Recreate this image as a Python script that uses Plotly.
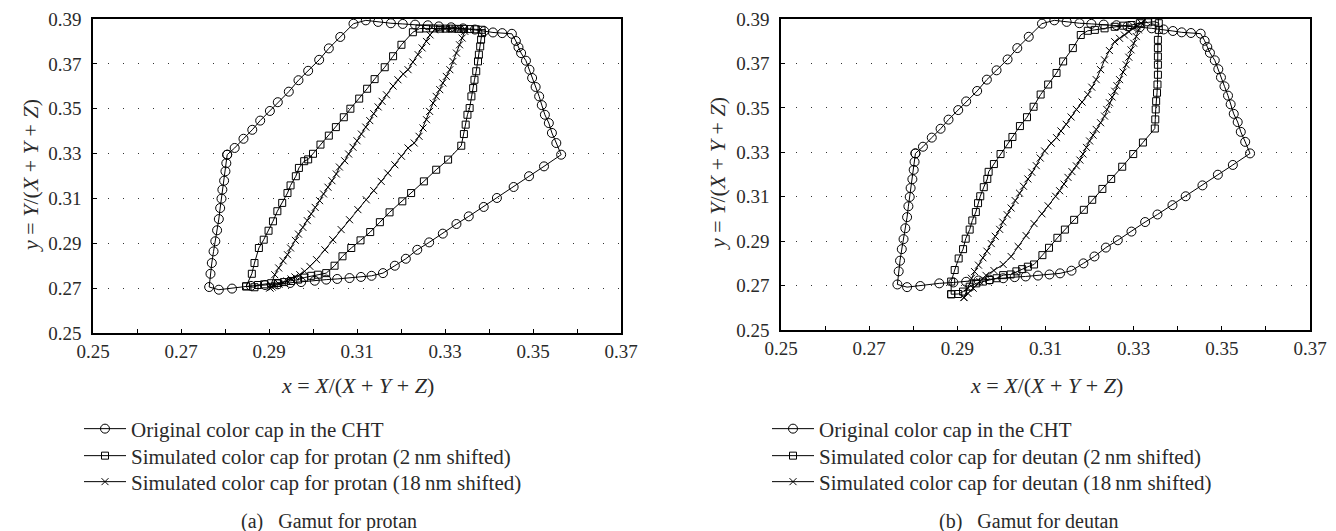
import plotly.graph_objects as go

# ---------------- data ----------------
# Original CHT colour caps (same in both panels)
orig = [(0.2805,0.3295),(0.2822,0.3325),(0.2842,0.3366),(0.2862,0.3406),(0.2880,0.3447),
        (0.2902,0.3490),(0.2920,0.3529),(0.2945,0.3576),(0.2967,0.3627),(0.2989,0.3669),
        (0.3014,0.3718),(0.3036,0.3769),(0.3062,0.3820),(0.3092,0.3879),(0.3120,0.3894),
        (0.3148,0.3887),(0.3177,0.3881),(0.3204,0.3878),(0.3232,0.3875),(0.3261,0.3872),
        (0.3286,0.3867),(0.3314,0.3863),(0.3341,0.3858),(0.3368,0.3853),(0.3389,0.3846),
        (0.3409,0.3840),(0.3430,0.3837),(0.3452,0.3834),(0.3461,0.3802),(0.3467,0.3774),
        (0.3473,0.3748),(0.3484,0.3714),(0.3492,0.3674),(0.3498,0.3637),(0.3506,0.3597),
        (0.3514,0.3555),(0.3520,0.3516),(0.3527,0.3473),(0.3536,0.3436),(0.3543,0.3392),
        (0.3553,0.3347),(0.3564,0.3295),(0.3525,0.3243),(0.3491,0.3199),(0.3456,0.3151),
        (0.3418,0.3102),(0.3388,0.3062),(0.3354,0.3020),(0.3326,0.2986),(0.3295,0.2943),
        (0.3264,0.2904),(0.3237,0.2871),(0.3211,0.2831),(0.3186,0.2800),(0.3159,0.2767),
        (0.3133,0.2755),(0.3109,0.2750),(0.3083,0.2745),(0.3055,0.2741),(0.3030,0.2738),
        (0.3004,0.2733),(0.2973,0.2727),(0.2948,0.2723),(0.2920,0.2717),(0.2891,0.2714),
        (0.2859,0.2710),(0.2816,0.2698),(0.2786,0.2693),(0.2764,0.2705),(0.2767,0.2764),
        (0.2770,0.2812),(0.2774,0.2864),(0.2778,0.2909),(0.2782,0.2958),(0.2786,0.3008),
        (0.2789,0.3057),(0.2792,0.3099),(0.2794,0.3139),(0.2798,0.3179),(0.2801,0.3221),
        (0.2803,0.3257),(0.2805,0.3295)]

# Protan, 2 nm shifted
protan2 = [(0.2848,0.2708),(0.2861,0.2764),(0.2867,0.2812),(0.2877,0.2879),(0.2888,0.2916),
           (0.2899,0.2956),(0.2909,0.2998),(0.2919,0.3043),(0.2930,0.3080),(0.2942,0.3124),
           (0.2949,0.3158),(0.2961,0.3199),(0.2968,0.3236),(0.2980,0.3266),(0.2989,0.3274),
           (0.3000,0.3299),(0.3017,0.3340),(0.3036,0.3380),(0.3052,0.3418),(0.3070,0.3462),
           (0.3085,0.3500),(0.3105,0.3545),(0.3123,0.3589),(0.3140,0.3632),(0.3163,0.3685),
           (0.3182,0.3734),(0.3201,0.3785),(0.3227,0.3841),(0.3242,0.3857),(0.3257,0.3858),
           (0.3273,0.3858),(0.3289,0.3857),(0.3302,0.3857),(0.3316,0.3857),(0.3330,0.3856),
           (0.3343,0.3856),(0.3357,0.3855),(0.3370,0.3854),(0.3383,0.3852),(0.3384,0.3837),
           (0.3382,0.3808),(0.3380,0.3778),(0.3377,0.3741),(0.3375,0.3711),(0.3371,0.3667),
           (0.3367,0.3629),(0.3364,0.3592),(0.3360,0.3555),(0.3356,0.3503),(0.3351,0.3473),
           (0.3347,0.3429),(0.3343,0.3387),(0.3337,0.3335),(0.3307,0.3273),(0.3280,0.3228),
           (0.3252,0.3176),(0.3223,0.3124),(0.3203,0.3087),(0.3174,0.3038),(0.3152,0.2994),
           (0.3130,0.2950),(0.3108,0.2913),(0.3087,0.2879),(0.3067,0.2842),(0.3049,0.2800),
           (0.3030,0.2767),(0.3011,0.2760),(0.2996,0.2755),(0.2980,0.2747),(0.2966,0.2738),
           (0.2950,0.2732),(0.2934,0.2727),(0.2920,0.2723),(0.2905,0.2722),(0.2889,0.2717),
           (0.2875,0.2714),(0.2867,0.2704),(0.2848,0.2708)]

# Protan, 18 nm shifted
protan18 = [(0.2902,0.2701),(0.2913,0.2760),(0.2922,0.2790),(0.2932,0.2822),(0.2942,0.2849),
            (0.2949,0.2879),(0.2960,0.2913),(0.2967,0.2941),(0.2977,0.2971),(0.2987,0.3001),
            (0.2996,0.3031),(0.3005,0.3060),(0.3015,0.3090),(0.3024,0.3120),(0.3034,0.3150),
            (0.3043,0.3179),(0.3053,0.3209),(0.3060,0.3240),(0.3072,0.3268),(0.3081,0.3298),
            (0.3091,0.3328),(0.3100,0.3357),(0.3110,0.3387),(0.3120,0.3418),(0.3129,0.3447),
            (0.3138,0.3478),(0.3148,0.3508),(0.3157,0.3533),(0.3167,0.3562),(0.3182,0.3601),
            (0.3193,0.3629),(0.3205,0.3655),(0.3216,0.3674),(0.3227,0.3708),(0.3239,0.3741),
            (0.3248,0.3771),(0.3258,0.3800),(0.3266,0.3829),(0.3276,0.3852),(0.3289,0.3857),
            (0.3300,0.3857),(0.3311,0.3857),(0.3323,0.3857),(0.3334,0.3857),(0.3345,0.3857),
            (0.3345,0.3845),(0.3339,0.3815),(0.3333,0.3785),(0.3326,0.3748),(0.3318,0.3711),
            (0.3311,0.3674),(0.3303,0.3644),(0.3295,0.3615),(0.3288,0.3585),(0.3280,0.3555),
            (0.3273,0.3525),(0.3265,0.3488),(0.3258,0.3451),(0.3250,0.3414),(0.3241,0.3377),
            (0.3230,0.3347),(0.3216,0.3325),(0.3201,0.3288),(0.3186,0.3250),(0.3170,0.3213),
            (0.3155,0.3176),(0.3138,0.3135),(0.3121,0.3094),(0.3102,0.3050),(0.3083,0.3005),
            (0.3064,0.2961),(0.3045,0.2916),(0.3027,0.2871),(0.3008,0.2827),(0.2993,0.2797),
            (0.2981,0.2775),(0.2970,0.2760),(0.2959,0.2750),(0.2950,0.2741),(0.2941,0.2732),
            (0.2932,0.2725),(0.2923,0.2718),(0.2914,0.2712),(0.2907,0.2705),(0.2902,0.2701)]

# Deutan, 2 nm shifted
deutan2 = [(0.2886,0.2661),(0.2886,0.2718),(0.2894,0.2770),(0.2903,0.2822),(0.2913,0.2864),
           (0.2919,0.2911),(0.2928,0.2952),(0.2934,0.2993),(0.2942,0.3031),(0.2947,0.3071),
           (0.2952,0.3102),(0.2960,0.3143),(0.2968,0.3180),(0.2971,0.3212),(0.2983,0.3247),
           (0.2998,0.3292),(0.3015,0.3336),(0.3025,0.3369),(0.3042,0.3418),(0.3058,0.3458),
           (0.3073,0.3505),(0.3089,0.3560),(0.3106,0.3605),(0.3125,0.3657),(0.3140,0.3709),
           (0.3162,0.3769),(0.3180,0.3828),(0.3196,0.3847),(0.3212,0.3851),(0.3234,0.3858),
           (0.3257,0.3865),(0.3276,0.3870),(0.3295,0.3873),(0.3314,0.3881),(0.3333,0.3885),
           (0.3348,0.3888),(0.3357,0.3881),(0.3357,0.3851),(0.3355,0.3806),(0.3355,0.3769),
           (0.3355,0.3731),(0.3355,0.3694),(0.3355,0.3649),(0.3354,0.3605),(0.3353,0.3568),
           (0.3351,0.3530),(0.3350,0.3493),(0.3349,0.3448),(0.3348,0.3407),(0.3321,0.3344),
           (0.3299,0.3292),(0.3274,0.3235),(0.3249,0.3180),(0.3229,0.3135),(0.3206,0.3086),
           (0.3187,0.3041),(0.3165,0.2996),(0.3144,0.2952),(0.3127,0.2915),(0.3108,0.2870),
           (0.3093,0.2837),(0.3074,0.2795),(0.3060,0.2785),(0.3047,0.2774),(0.3034,0.2764),
           (0.3021,0.2750),(0.3004,0.2747),(0.2989,0.2733),(0.2973,0.2725),(0.2958,0.2718),
           (0.2943,0.2710),(0.2928,0.2695),(0.2913,0.2673),(0.2902,0.2662),(0.2886,0.2661)]

# Deutan, 18 nm shifted
deutan18 = [(0.2915,0.2646),(0.2924,0.2688),(0.2932,0.2733),(0.2939,0.2763),(0.2948,0.2792),
            (0.2958,0.2825),(0.2967,0.2855),(0.2977,0.2889),(0.2986,0.2922),(0.2996,0.2953),
            (0.3003,0.2986),(0.3013,0.3019),(0.3022,0.3049),(0.3031,0.3083),(0.3041,0.3116),
            (0.3050,0.3147),(0.3060,0.3180),(0.3069,0.3210),(0.3079,0.3240),(0.3088,0.3274),
            (0.3098,0.3306),(0.3113,0.3341),(0.3125,0.3366),(0.3135,0.3396),(0.3147,0.3426),
            (0.3158,0.3459),(0.3170,0.3493),(0.3183,0.3526),(0.3196,0.3560),(0.3205,0.3593),
            (0.3215,0.3627),(0.3225,0.3672),(0.3234,0.3716),(0.3245,0.3758),(0.3257,0.3798),
            (0.3268,0.3813),(0.3279,0.3828),(0.3289,0.3843),(0.3298,0.3858),(0.3307,0.3869),
            (0.3317,0.3881),(0.3325,0.3895),(0.3311,0.3851),(0.3306,0.3821),(0.3300,0.3791),
            (0.3294,0.3761),(0.3289,0.3728),(0.3283,0.3694),(0.3276,0.3661),(0.3268,0.3627),
            (0.3262,0.3600),(0.3257,0.3575),(0.3251,0.3549),(0.3245,0.3523),(0.3239,0.3493),
            (0.3234,0.3463),(0.3225,0.3433),(0.3215,0.3403),(0.3208,0.3377),(0.3200,0.3351),
            (0.3193,0.3322),(0.3185,0.3292),(0.3178,0.3265),(0.3170,0.3239),(0.3160,0.3213),
            (0.3151,0.3187),(0.3142,0.3157),(0.3132,0.3127),(0.3123,0.3102),(0.3106,0.3059),
            (0.3092,0.3023),(0.3074,0.2979),(0.3056,0.2925),(0.3038,0.2876),(0.3022,0.2831),
            (0.3004,0.2795),(0.2983,0.2768),(0.2965,0.2746),(0.2951,0.2718),(0.2936,0.2688),
            (0.2924,0.2665),(0.2915,0.2646)]

x_ticks = [0.25, 0.27, 0.29, 0.31, 0.33, 0.35, 0.37]
y_ticks = [0.25, 0.27, 0.29, 0.31, 0.33, 0.35, 0.37, 0.39]

names_a = ["Original color cap in the CHT",
           "Simulated color cap for protan (2\u2009nm shifted)",
           "Simulated color cap for protan (18\u2009nm shifted)"]
names_b = ["Original color cap in the CHT",
           "Simulated color cap for deutan (2\u2009nm shifted)",
           "Simulated color cap for deutan (18\u2009nm shifted)"]
captions = ["(a)\u2002 Gamut for protan", "(b)\u2002 Gamut for deutan"]

# ---------------- figure ----------------
W, H = 1336, 531
FONT = "Liberation Serif"
TXT = "#2a2a2a"

def px_x(p):
    return p / W

def px_y(p):
    return 1 - p / H

fig = go.Figure()

symbols = [("circle-open", 9), ("square-open", 7), ("x-thin-open", 7)]
legend_rows = [421, 448, 474]          # pixel centre of each legend row

legend_layout = {}

def add_panel(series, names, xa, ya, first_legend, legend_x):
    for i, (pts, nm) in enumerate(zip(series, names)):
        sym, sz = symbols[i]
        k = first_legend + i
        lname = "legend" if k == 1 else "legend%d" % k
        fig.add_trace(go.Scatter(
            x=[p[0] for p in pts], y=[p[1] for p in pts],
            mode="lines+markers", name=nm,
            xaxis=xa, yaxis=ya, legend=lname,
            line=dict(color="black", width=1),
            marker=dict(symbol=sym, size=sz, color="black",
                        line=dict(color="black", width=1)),
            hoverinfo="skip"))
        legend_layout[lname] = dict(
            x=px_x(legend_x), y=px_y(legend_rows[i]), xanchor="left", yanchor="middle",
            bgcolor="rgba(0,0,0,0)", itemwidth=42,
            font=dict(family=FONT, size=21, color=TXT))

add_panel([orig, protan2, protan18], names_a, "x", "y", 1, 71)
add_panel([orig, deutan2, deutan18], names_b, "x2", "y2", 4, 759)

def xaxis_cfg(d0, d1, anchor):
    return dict(domain=[d0, d1], anchor=anchor, range=[0.25, 0.37], automargin=False,
                tickvals=x_ticks, tickformat=".2f", ticks="inside", ticklen=4,
                tickcolor="black",
                minor=dict(dtick=0.01, tick0=0.25, ticks="inside", ticklen=4,
                           tickcolor="black", showgrid=False),
                showgrid=False, zeroline=False, showline=True, mirror=True,
                linecolor="black", linewidth=1.5,
                tickfont=dict(family=FONT, size=19, color=TXT))

def yaxis_cfg(d0, d1, anchor):
    return dict(domain=[d0, d1], anchor=anchor, range=[0.25, 0.39], automargin=False,
                tickvals=y_ticks, tickformat=".2f", ticks="inside", ticklen=4,
                tickcolor="black", ticklabelstandoff=6,
                showgrid=True, gridcolor="#333333", gridwidth=1,
                griddash="1px,14px", zeroline=False, showline=True, mirror=True,
                linecolor="black", linewidth=1.5,
                tickfont=dict(family=FONT, size=19, color=TXT))

fig.update_layout(
    width=W, height=H,
    margin=dict(l=0, r=0, t=0, b=0, autoexpand=False),
    paper_bgcolor="white", plot_bgcolor="white",
    xaxis=xaxis_cfg(px_x(85), px_x(613), "y"),
    yaxis=yaxis_cfg(px_y(325), px_y(11), "x"),
    xaxis2=xaxis_cfg(px_x(773), px_x(1302), "y2"),
    yaxis2=yaxis_cfg(px_y(322), px_y(11), "x2"),
    showlegend=True,
    **legend_layout,
)

xtitle = "<i>x</i> = <i>X</i>/(<i>X</i> + <i>Y</i> + <i>Z</i>)"
ytitle = "<i>y</i> = <i>Y</i>/(<i>X</i> + <i>Y</i> + <i>Z</i>)"
title_font = dict(family=FONT, size=22, color=TXT)
cap_font = dict(family=FONT, size=20, color=TXT)
for cx, cy_t, ycx, ycy, cap, capx in [(349, 377, 23, 168, captions[0], 321),
                                      (1038, 377, 710, 166, captions[1], 1020)]:
    fig.add_annotation(x=px_x(cx), y=px_y(cy_t), xref="paper", yref="paper",
                       text=xtitle, showarrow=False, font=title_font,
                       xanchor="center", yanchor="middle")
    fig.add_annotation(x=px_x(ycx), y=px_y(ycy), xref="paper", yref="paper",
                       text=ytitle, showarrow=False, font=title_font, textangle=-90,
                       xanchor="center", yanchor="middle")
    fig.add_annotation(x=px_x(capx), y=px_y(513), xref="paper", yref="paper",
                       text=cap, showarrow=False, font=cap_font, borderpad=0,
                       xanchor="center", yanchor="middle")

fig.write_html("out.html")
